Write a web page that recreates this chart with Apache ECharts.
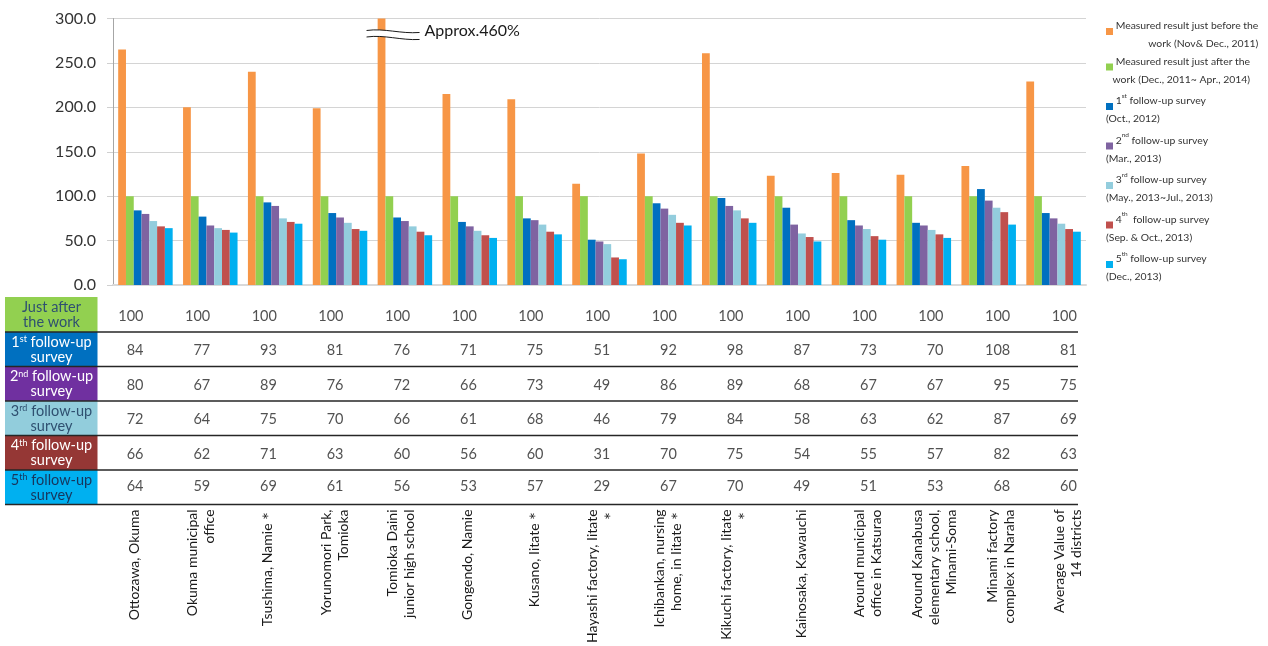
<!DOCTYPE html>
<html>
<head>
<meta charset="utf-8">
<script src="https://cdn.jsdelivr.net/npm/echarts@6/dist/echarts.min.js"></script>
<style>
  html, body { margin: 0; padding: 0; background: #ffffff; }
  #chart { width: 1268px; height: 646px; }
</style>
</head>
<body>
<div id="chart"></div>
<script>
// ---- Data ----------------------------------------------------------------
const districts = [
  'Ottozawa, Okuma',
  'Okuma municipal\noffice',
  'Tsushima, Namie＊',
  'Yorunomori Park,\nTomioka',
  'Tomioka Daini\njunior high school',
  'Gongendo, Namie',
  'Kusano, Iitate＊',
  'Hayashi factory, Iitate\n＊',
  'Ichibankan, nursing\nhome, in Iitate＊',
  'Kikuchi factory, Iitate\n＊',
  'Kainosaka, Kawauchi',
  'Around municipal\noffice in Katsurao',
  'Around Kanabusa\nelementary school,\nMinami-Soma',
  'Minami factory\ncomplex in Naraha',
  'Average Value of\n14 districts'
];

// Relative dose rate (%), value just after the work = 100
const beforeWork = [265, 200, 240, 199, 460, 215, 209, 114, 148, 261, 123, 126, 124, 134, 229];
const afterWork  = [100, 100, 100, 100, 100, 100, 100, 100, 100, 100, 100, 100, 100, 100, 100];
const survey1    = [84, 77, 93, 81, 76, 71, 75, 51, 92, 98, 87, 73, 70, 108, 81];
const survey2    = [80, 67, 89, 76, 72, 66, 73, 49, 86, 89, 68, 67, 67, 95, 75];
const survey3    = [72, 64, 75, 70, 66, 61, 68, 46, 79, 84, 58, 63, 62, 87, 69];
const survey4    = [66, 62, 71, 63, 60, 56, 60, 31, 70, 75, 54, 55, 57, 82, 63];
const survey5    = [64, 59, 69, 61, 56, 53, 57, 29, 67, 70, 49, 51, 53, 68, 60];

const seriesNames = [
  'Measured result just before the work (Nov& Dec., 2011)',
  'Measured result just after the work (Dec., 2011~ Apr., 2014)',
  '1st follow-up survey (Oct., 2012)',
  '2nd follow-up survey (Mar., 2013)',
  '3rd follow-up survey (May., 2013~Jul., 2013)',
  '4th follow-up survey (Sep. & Oct., 2013)',
  '5th follow-up survey (Dec., 2013)'
];
const seriesValues = [beforeWork, afterWork, survey1, survey2, survey3, survey4, survey5];

// legend text: first line, second line, second line right-aligned?
const legendLines = [
  ['{t|Measured result just before the}', 'work (Nov& Dec., 2011)', true],
  ['{t|Measured result just after the}', 'work (Dec., 2011~ Apr., 2014)', true],
  ['{t|1}{s|st}{t| follow-up survey}', '(Oct., 2012)', false],
  ['{t|2}{s|nd}{t| follow-up survey}', '(Mar., 2013)', false],
  ['{t|3}{s|rd}{t| follow-up survey}', '(May., 2013~Jul., 2013)', false],
  ['{t|4}{s|th}{t|  follow-up survey}', '(Sep. & Oct., 2013)', false],
  ['{t|5}{s|th}{t| follow-up survey}', '(Dec., 2013)', false]
];

// table rows under the chart
const tableRows = [
  { head: 'Just after\nthe work',      values: afterWork, fill: '#92d050', ink: '#2f5070' },
  { head: '1{s|st} follow-up\nsurvey', values: survey1,   fill: '#0070c0', ink: '#ffffff' },
  { head: '2{s|nd} follow-up\nsurvey', values: survey2,   fill: '#7030a0', ink: '#ffffff' },
  { head: '3{s|rd} follow-up\nsurvey', values: survey3,   fill: '#92cddc', ink: '#2f5070' },
  { head: '4{s|th} follow-up\nsurvey', values: survey4,   fill: '#953735', ink: '#ffffff' },
  { head: '5{s|th} follow-up\nsurvey', values: survey5,   fill: '#00b0f0', ink: '#17365d' }
];

// ---- Styling / layout -----------------------------------------------------
const FONT = 'Lato, "Open Sans", "DejaVu Sans", sans-serif';
const colors = ['#f79646', '#92d050', '#0070c0', '#7f63a1', '#93cddd', '#c0504d', '#00b0f0'];
const rowEdges = [297, 332, 366.5, 401, 435.5, 470, 504.5];
const tableLeft = 101.2, tableWidth = 1000;

const chart = echarts.init(document.getElementById('chart'));

const grids = [{ left: 113, top: 18.5, width: 973, height: 266.5 }];
const xAxes = [{
  gridIndex: 0, type: 'category', data: districts,
  axisLine: { lineStyle: { color: '#d9d9d9', width: 2 } },
  axisTick: { show: false }, axisLabel: { show: false }
}];
const yAxes = [{
  gridIndex: 0, type: 'value', min: 0, max: 300, interval: 50,
  axisLine: { show: true, lineStyle: { color: '#a6a6a6', width: 1 } },
  axisTick: { show: true, length: 6, lineStyle: { color: '#d0d0d0' } },
  splitLine: { lineStyle: { color: '#d4d4d4', width: 1 } },
  axisLabel: { formatter: v => v.toFixed(1), fontSize: 16, color: '#333333', margin: 17, fontFamily: FONT }
}];

const series = seriesValues.map((vals, i) => ({
  name: seriesNames[i], type: 'bar', xAxisIndex: 0, yAxisIndex: 0,
  data: vals, barGap: '0%', barCategoryGap: '16%',
  itemStyle: { color: colors[i] }, clip: true, silent: true
}));

tableRows.forEach((row, r) => {
  const gi = r + 1;
  const last = r === tableRows.length - 1;
  grids.push({ left: tableLeft, width: tableWidth, top: rowEdges[r], height: rowEdges[r + 1] - rowEdges[r] });
  xAxes.push({
    gridIndex: gi, type: 'category', data: districts, show: last,
    axisLine: { show: false }, axisTick: { show: false }, splitLine: { show: false },
    axisLabel: {
      show: last, interval: 0, rotate: 90, margin: 9,
      fontSize: 14, lineHeight: 17, color: '#1a1a1a', fontFamily: FONT
    }
  });
  yAxes.push({ gridIndex: gi, type: 'value', min: 0, max: 1, show: false });
  series.push({
    type: 'scatter', xAxisIndex: gi, yAxisIndex: gi, silent: true,
    symbol: 'rect', symbolSize: 1, itemStyle: { color: 'rgba(0,0,0,0)' },
    data: row.values.map((v, i) => [i, 0.5, v]),
    label: {
      show: true, position: 'inside', align: 'right', verticalAlign: 'middle',
      offset: [9, 1.5], formatter: p => String(p.value[2]),
      fontSize: 14.5, color: '#262626', fontFamily: FONT
    }
  });
});

const legendRich = {
  t: { fontSize: 10.4, lineHeight: 18, color: '#333333', fontFamily: FONT },
  r: { fontSize: 10.4, lineHeight: 18, color: '#333333', fontFamily: FONT, align: 'right' },
  s: { fontSize: 6.5, lineHeight: 17, color: '#333333', fontFamily: FONT, verticalAlign: 'top' }
};
colors.forEach((c, i) => {
  legendRich['b' + i] = { width: 7, height: 7, backgroundColor: c, verticalAlign: 'bottom' };
});

chart.setOption({
  animation: false,
  backgroundColor: '#ffffff',
  grid: grids, xAxis: xAxes, yAxis: yAxes, series: series,
  legend: {
    data: seriesNames, orient: 'vertical', left: 1101, top: 21, padding: 0,
    itemWidth: 0, itemHeight: 0, itemGap: 7.5, selectedMode: false,
    formatter: name => {
      const i = seriesNames.indexOf(name);
      const l = legendLines[i];
      const first = '{b' + i + '|}{t| }' + l[0];
      const second = '{' + (l[2] ? 'r' : 't') + '|' + l[1] + '}';
      return first + '\n' + second;
    },
    textStyle: { rich: legendRich }
  }
});

// ---- Table frame, row headers and axis break ------------------------------
const graphics = [];
tableRows.forEach((row, r) => {
  const y0 = rowEdges[r], y1 = rowEdges[r + 1];
  graphics.push({
    type: 'rect', silent: true,
    shape: { x: 5, y: y0, width: 92.5, height: y1 - y0 },
    style: { fill: row.fill }
  });
  graphics.push({
    type: 'text', silent: true, x: 51.5, y: (y0 + y1) / 2 + 0.5,
    style: {
      text: row.head, fill: row.ink, align: 'center', verticalAlign: 'middle',
      font: '14.5px ' + FONT, lineHeight: 15,
      rich: { s: { fontSize: 9, lineHeight: 10, verticalAlign: 'top', fill: row.ink, fontFamily: FONT } }
    }
  });
  graphics.push({
    type: 'line', silent: true, z: 10,
    shape: { x1: 5, y1: y1, x2: 1078, y2: y1 },
    style: { stroke: '#262626', lineWidth: 1.5 }
  });
});

// broken bar marker for the off-scale value
const breakIdx = beforeWork.findIndex(v => v > 300);
if (breakIdx >= 0) {
  const c0 = chart.convertToPixel({ xAxisIndex: 0, yAxisIndex: 0 }, [0, 0]);
  const c1 = chart.convertToPixel({ xAxisIndex: 0, yAxisIndex: 0 }, [1, 0]);
  const band = c1[0] - c0[0];
  const barW = band * (1 - 0.16) / 7;
  const pc = chart.convertToPixel({ xAxisIndex: 0, yAxisIndex: 0 }, [breakIdx, 282]);
  const bx = pc[0] - 3 * barW;   // centre of the first bar in the group
  const yc = pc[1];
  const L = bx - 15, R = bx + 38;
  const bez = (p0, p1, p2, p3, t) => {
    const u = 1 - t;
    return u * u * u * p0 + 3 * u * u * t * p1 + 3 * u * t * t * p2 + t * t * t * p3;
  };
  const upper = { x1: L, y1: yc - 4, cpx1: L + 18, cpy1: yc - 6.5, cpx2: L + 34, cpy2: yc - 0.5, x2: R, y2: yc - 2 };
  const lower = { x1: L, y1: yc + 2.5, cpx1: L + 18, cpy1: yc, cpx2: L + 34, cpy2: yc + 6, x2: R, y2: yc + 5 };
  const sample = (s) => {
    const pts = [];
    for (let k = 0; k <= 16; k++) {
      const t = k / 16;
      pts.push([bez(s.x1, s.cpx1, s.cpx2, s.x2, t), bez(s.y1, s.cpy1, s.cpy2, s.y2, t)]);
    }
    return pts;
  };
  const poly = sample(upper).concat(sample(lower).reverse());
  graphics.push({ type: 'polygon', silent: true, z: 20, shape: { points: poly }, style: { fill: '#ffffff' } });
  graphics.push({ type: 'bezierCurve', silent: true, z: 21, shape: upper, style: { stroke: '#1a1a1a', lineWidth: 1, fill: null } });
  graphics.push({ type: 'bezierCurve', silent: true, z: 21, shape: lower, style: { stroke: '#1a1a1a', lineWidth: 1, fill: null } });
  graphics.push({
    type: 'text', silent: true, z: 21, x: bx + 43, y: yc - 4,
    style: {
      text: 'Approx.' + beforeWork[breakIdx] + '%', fill: '#1a1a1a',
      font: '16px ' + FONT, align: 'left', verticalAlign: 'middle'
    }
  });
}

chart.setOption({ graphic: graphics });
</script>
</body>
</html>
